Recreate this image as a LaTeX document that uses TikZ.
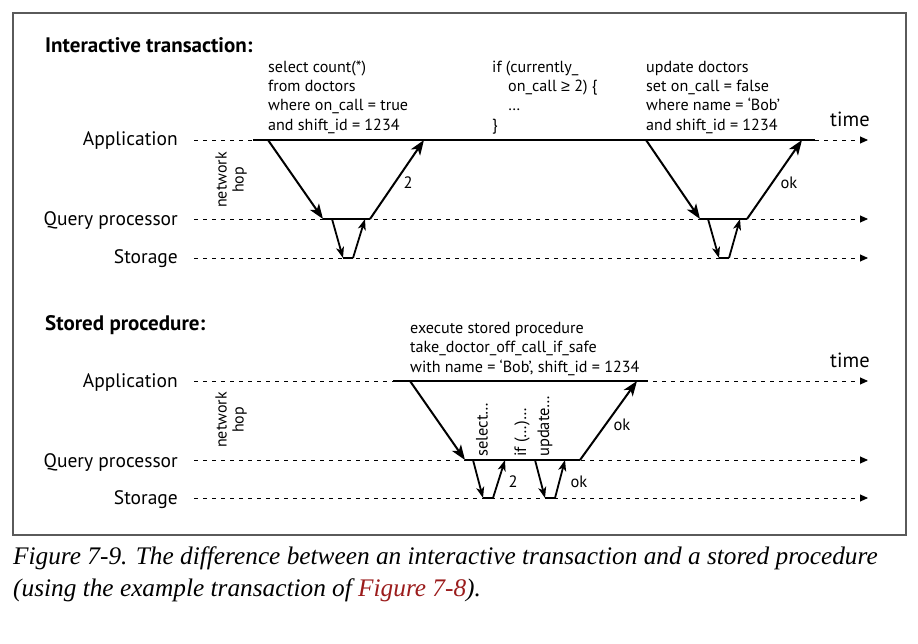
\documentclass[tikz,border=0pt]{standalone}
\usepackage{fontspec}
\setmainfont{PT Sans}
\newfontfamily\symfont{Liberation Sans}
\newfontfamily\capfont{Liberation Serif}
\usetikzlibrary{arrows.meta}
\definecolor{capred}{HTML}{9B1C1C}
\definecolor{framegray}{HTML}{5A5A5A}
\begin{document}
\begin{tikzpicture}[x=1pt,y=-1pt,
  lane/.style={font=\fontsize{19.5}{21}\selectfont, anchor=base east, inner sep=0},
  title/.style={font=\fontsize{21}{22}\selectfont\bfseries, anchor=base west, inner sep=0},
  code/.style={font=\fontsize{16.1}{19}\selectfont, anchor=base west, inner sep=0},
  small/.style={font=\fontsize{16.5}{18}\selectfont, inner sep=0},
  timelbl/.style={font=\fontsize{20.5}{22}\selectfont, anchor=base west, inner sep=0},
  hop/.style={font=\fontsize{16}{17}\selectfont, rotate=90, align=center, inner sep=0},
  vlbl/.style={font=\fontsize{16.5}{18}\selectfont, rotate=90, anchor=west, inner sep=0},
  timeline/.style={line width=0.9pt, dash pattern=on 4pt off 5pt, -{Triangle[length=8pt,width=7pt]}},
  seg/.style={line width=2pt},
  msg/.style={line width=2pt, -{Stealth[length=15pt,width=11pt,inset=4pt]}},
  smsg/.style={line width=1.8pt, -{Stealth[length=11pt,width=8pt,inset=3pt]}},
  caption/.style={font=\fontsize{25.3}{28}\selectfont\capfont\itshape, anchor=base west, inner sep=0}
]
\useasboundingbox (0,0) rectangle (918,644);
\draw[framegray, line width=1.2pt] (13,13) rectangle (906,535);

% ---------------- Interactive transaction ----------------
\node[title] (t1) at (45,53) {Interactive transaction:};
\node[lane] (la1) at (178,146) {Application};
\node[lane] (lq1) at (178,226) {Query processor};
\node[lane] (ls1) at (178,264) {Storage};
\node[hop] (hop1) at (231,180) {network\\hop};

\coordinate (a1s) at (194,140); \coordinate (a1e) at (868,140);
\coordinate (q1s) at (194,219); \coordinate (q1e) at (868,219);
\coordinate (s1s) at (194,258); \coordinate (s1e) at (868,258);
\draw[timeline] (a1s) -- (a1e);
\draw[timeline] (q1s) -- (q1e);
\draw[timeline] (s1s) -- (s1e);
\node[timelbl] (time1) at (830,127) {time};

\coordinate (A0) at (253,140); \coordinate (A9) at (815,140);
\draw[seg] (A0) -- (A9);

\coordinate (m1a) at (268,140); \coordinate (m1b) at (323,219);
\coordinate (m1c) at (370,219); \coordinate (m1d) at (424,140);
\draw[msg] (m1a) -- (m1b);
\draw[seg] (m1b) -- (m1c);
\draw[msg] (m1c) -- (m1d);
\node[small] (r1) at (408,183) {2};

\coordinate (n1a) at (332,219); \coordinate (n1b) at (343,258);
\coordinate (n1c) at (353,258); \coordinate (n1d) at (365,219);
\draw[smsg] (n1a) -- (n1b);
\draw[seg] (n1b) -- (n1c);
\draw[smsg] (n1c) -- (n1d);

\coordinate (m2a) at (646,140); \coordinate (m2b) at (700,219);
\coordinate (m2c) at (747,219); \coordinate (m2d) at (802,140);
\draw[msg] (m2a) -- (m2b);
\draw[seg] (m2b) -- (m2c);
\draw[msg] (m2c) -- (m2d);
\node[small] (r2) at (789,183) {ok};

\coordinate (n2a) at (708,219); \coordinate (n2b) at (719,258);
\coordinate (n2c) at (729,258); \coordinate (n2d) at (740,219);
\draw[smsg] (n2a) -- (n2b);
\draw[seg] (n2b) -- (n2c);
\draw[smsg] (n2c) -- (n2d);

\node[code] (c1) at (268,73) {select count(*)};
\node[code] (c2) at (268,92) {from doctors};
\node[code] (c3) at (268,111) {where on\_call = true};
\node[code] (c4) at (268,130.5) {and shift\_id = 1234};

\node[code] (d1) at (492,73) {if (currently\_};
\node[code] (d2) at (508,92) {on\_call {\symfont ≥} 2) \{};
\node[code] (d3) at (508,111) {…};
\node[code] (d4) at (492,130.5) {\}};

\node[code] (e1) at (646,73) {update doctors};
\node[code] (e2) at (646,92) {set on\_call = false};
\node[code] (e3) at (646,111) {where name = ‘Bob’};
\node[code] (e4) at (646,130.5) {and shift\_id = 1234};

% ---------------- Stored procedure ----------------
\node[title] (t2) at (45,330) {Stored procedure:};
\node[lane] (la2) at (178,387) {Application};
\node[lane] (lq2) at (178,467) {Query processor};
\node[lane] (ls2) at (178,504) {Storage};
\node[hop] (hop2) at (231,420) {network\\hop};

\coordinate (a2s) at (194,381); \coordinate (a2e) at (868,381);
\coordinate (q2s) at (194,460); \coordinate (q2e) at (868,460);
\coordinate (s2s) at (194,498); \coordinate (s2e) at (868,498);
\draw[timeline] (a2s) -- (a2e);
\draw[timeline] (q2s) -- (q2e);
\draw[timeline] (s2s) -- (s2e);
\node[timelbl] (time2) at (830,367) {time};

\coordinate (B0) at (393,381); \coordinate (B9) at (648,381);
\draw[seg] (B0) -- (B9);

\coordinate (p1a) at (410,381); \coordinate (p1b) at (465,460);
\coordinate (p1c) at (580,460); \coordinate (p1d) at (637,381);
\draw[msg] (p1a) -- (p1b);
\draw[seg] (p1b) -- (p1c);
\draw[msg] (p1c) -- (p1d);
\node[small] (r3) at (622,425) {ok};

\coordinate (u1a) at (473,460); \coordinate (u1b) at (483,498);
\coordinate (u1c) at (493,498); \coordinate (u1d) at (505,460);
\draw[smsg] (u1a) -- (u1b);
\draw[seg] (u1b) -- (u1c);
\draw[smsg] (u1c) -- (u1d);
\node[small] (r4) at (513,482) {2};

\coordinate (u2a) at (535,460); \coordinate (u2b) at (545,498);
\coordinate (u2c) at (555,498); \coordinate (u2d) at (565,460);
\draw[smsg] (u2a) -- (u2b);
\draw[seg] (u2b) -- (u2c);
\draw[smsg] (u2c) -- (u2d);
\node[small] (r5) at (579,482) {ok};

\node[vlbl] (v1) at (482,457) {select…};
\node[vlbl] (v2) at (522,457) {if (…)…};
\node[vlbl] (v3) at (545,457) {update…};

\node[code] (f1) at (410,333) {execute stored procedure};
\node[code] (f2) at (410,352.5) {take\_doctor\_off\_call\_if\_safe};
\node[code] (f3) at (410,372) {with name = ‘Bob’, shift\_id = 1234};

% ---------------- Caption ----------------
\node[caption] (cap1) at (13,564) {Figure 7-9. The difference between an interactive transaction and a stored procedure};
\node[caption] (cap2) at (13,596) {(using the example transaction of \textcolor{capred}{Figure 7-8}).};
\end{tikzpicture}
\end{document}
